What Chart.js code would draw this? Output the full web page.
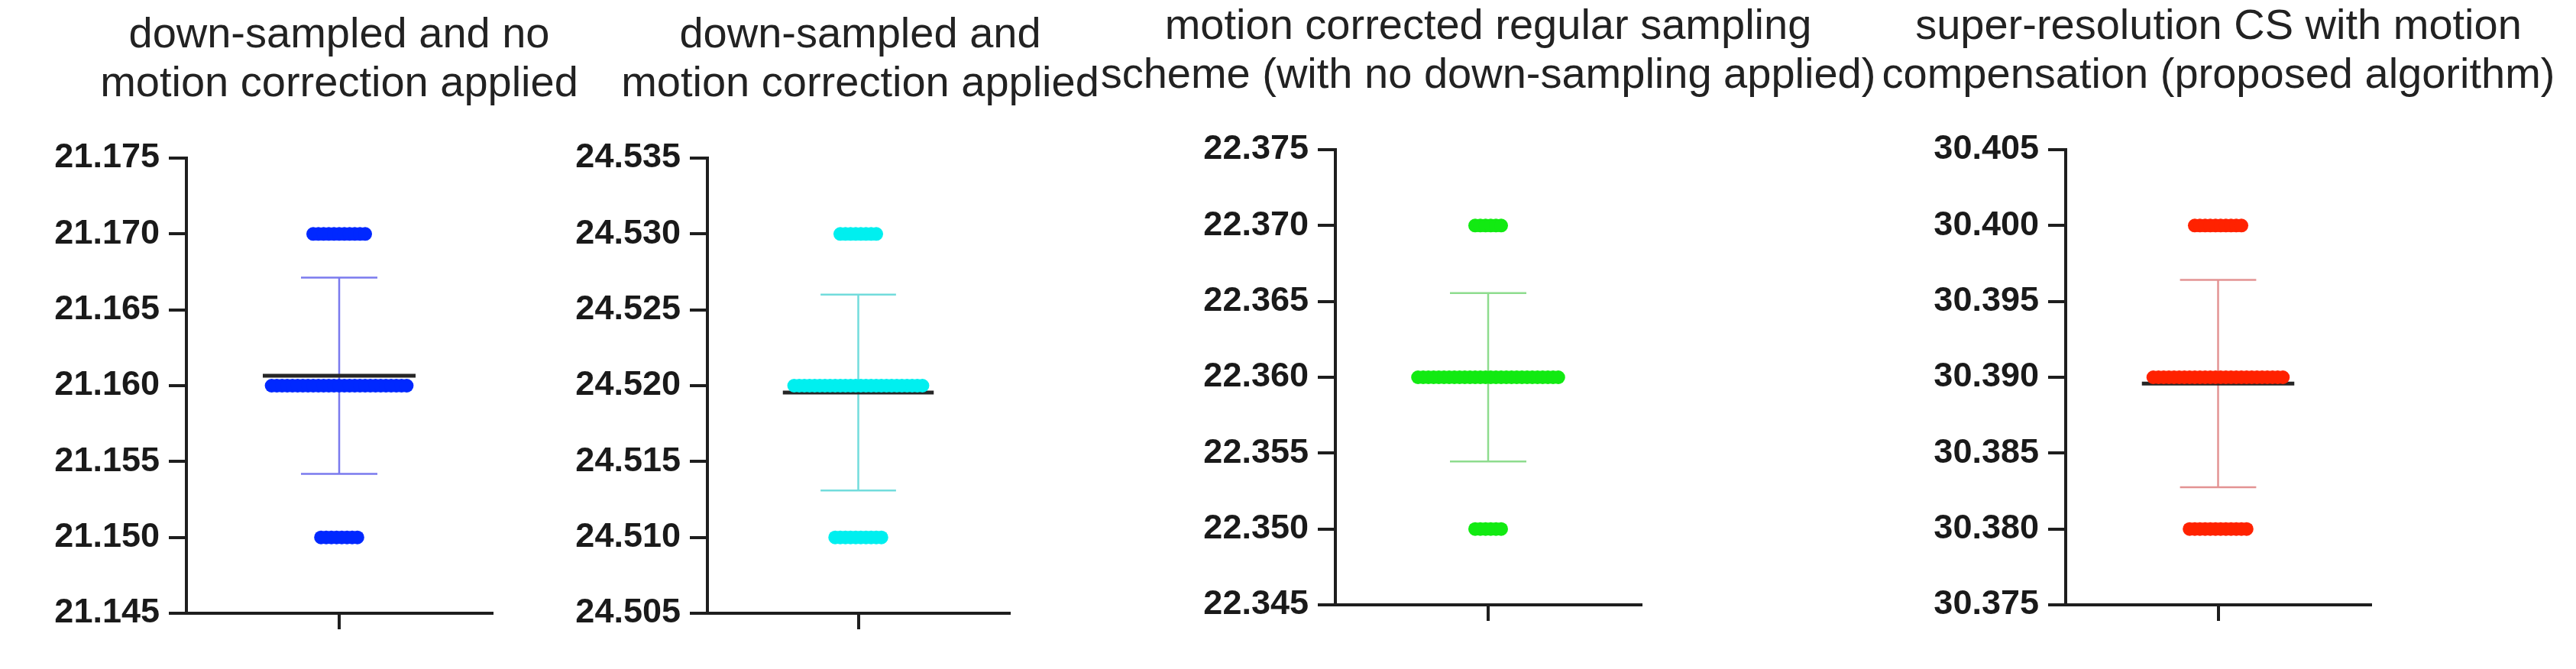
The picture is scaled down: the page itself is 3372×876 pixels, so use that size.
<!DOCTYPE html>
<html>
<head>
<meta charset="utf-8">
<script src="https://cdn.jsdelivr.net/npm/chart.js@4.4.1/dist/chart.umd.min.js"></script>
<style>
  html, body { margin: 0; padding: 0; background: #fff; }
  #wrap { position: relative; width: 3372px; height: 876px; overflow: hidden; }
  #wrap canvas { position: absolute; top: 0; }
</style>
</head>
<body>
<div id="wrap"></div>
<script>
// panel titles (two lines each)
const titles = [
  ["down-sampled and no", "motion correction applied"],
  ["down-sampled and", "motion correction applied"],
  ["motion corrected regular sampling", "scheme (with no down-sampling applied)"],
  ["super-resolution CS with motion", "compensation (proposed algorithm)"],
];

// measured values and how many repeats sit on each value
const levelsDown = [21.170, 21.160, 21.150];
const countsDown = [11, 27, 8];
const levelsDownMC = [24.530, 24.520, 24.510];
const countsDownMC = [8, 26, 10];
const levelsRegular = [22.370, 22.360, 22.350];
const countsRegular = [6, 28, 6];
const levelsSR = [30.400, 30.390, 30.380];
const countsSR = [10, 26, 12];

// y tick labels per panel
const ticksDown = [21.145, 21.150, 21.155, 21.160, 21.165, 21.170, 21.175];
const ticksDownMC = [24.505, 24.510, 24.515, 24.520, 24.525, 24.530, 24.535];
const ticksRegular = [22.345, 22.350, 22.355, 22.360, 22.365, 22.370, 22.375];
const ticksSR = [30.375, 30.380, 30.385, 30.390, 30.395, 30.400, 30.405];

const dotColors = ["#0028ff", "#00efef", "#12ea12", "#ff2200"];
const barColors = ["#7a7aee", "#72dcdc", "#8edc8e", "#e39393"];

// where each plot area sits on the page
const boxes = [
  { left: 244, width: 400, top: 207, bottom: 803 },
  { left: 926, width: 395, top: 207, bottom: 803 },
  { left: 1748, width: 400, top: 196, bottom: 792 },
  { left: 2704, width: 399, top: 196, bottom: 792 },
];

const FONT = "'Liberation Sans', Arial, Helvetica, sans-serif";
const INK = "#1e1e1e";
const CANVAS_W = 1100;
const LEFT_W = 350;
const TITLE_SIZE = 56;
const TITLE_LH = 1.15;
const DOT_STEP = 0.034; // horizontal spread between repeated dots (x units)

function spread(levels, counts) {
  const pts = [];
  levels.forEach((v, i) => {
    const n = counts[i];
    for (let k = 0; k < n; k++) {
      pts.push({ x: (k - (n - 1) / 2) * DOT_STEP, y: v });
    }
  });
  return pts;
}

function meanSd(pts) {
  const n = pts.length;
  const m = pts.reduce((a, p) => a + p.y, 0) / n;
  const v = pts.reduce((a, p) => a + (p.y - m) ** 2, 0) / (n - 1);
  return [m, Math.sqrt(v)];
}

function makePanel(idx, levels, counts, ticks) {
  const box = boxes[idx];
  const canvas = document.createElement("canvas");
  canvas.width = CANVAS_W;
  canvas.height = 876;
  canvas.style.left = (box.left - LEFT_W) + "px";
  document.getElementById("wrap").appendChild(canvas);

  const pts = spread(levels, counts);
  const [m, sd] = meanSd(pts);
  const lineH = TITLE_SIZE * TITLE_LH;
  const titleTop = box.top === 207 ? 14 : 3;

  const seg = (a, b, color, w, order) => ({
    data: [a, b], showLine: true, borderColor: color, borderWidth: w,
    pointRadius: 0, order: order,
  });

  new Chart(canvas, {
    type: "scatter",
    data: {
      datasets: [
        { data: pts, backgroundColor: dotColors[idx], borderWidth: 0, pointRadius: 9, order: 0 },
        seg({ x: -0.5, y: m }, { x: 0.5, y: m }, "#262626", 5, 1),
        seg({ x: 0, y: m - sd }, { x: 0, y: m + sd }, barColors[idx], 2.5, 2),
        seg({ x: -0.25, y: m + sd }, { x: 0.25, y: m + sd }, barColors[idx], 2.5, 2),
        seg({ x: -0.25, y: m - sd }, { x: 0.25, y: m - sd }, barColors[idx], 2.5, 2),
      ],
    },
    options: {
      responsive: false,
      animation: false,
      devicePixelRatio: 1,
      layout: {
        padding: { left: 0, right: 0, top: 0, bottom: 876 - box.bottom - 40 },
      },
      plugins: {
        legend: { display: false },
        tooltip: { enabled: false },
        title: {
          display: true,
          text: titles[idx],
          color: "#222",
          font: { family: FONT, size: TITLE_SIZE, weight: "normal", lineHeight: TITLE_LH },
          padding: { top: titleTop, bottom: box.top - titleTop - 2 * lineH },
        },
      },
      scales: {
        x: {
          type: "linear",
          min: -1,
          max: 1,
          afterBuildTicks: (s) => { s.ticks = [{ value: 0 }]; },
          afterFit: (s) => { s.height = 40; },
          ticks: { callback: () => "" },
          grid: { drawOnChartArea: false, tickLength: 21, lineWidth: 4, color: INK },
          border: { display: true, width: 4, color: INK },
        },
        y: {
          type: "linear",
          min: ticks[0],
          max: ticks[ticks.length - 1],
          afterBuildTicks: (s) => { s.ticks = ticks.map((v) => ({ value: v })); },
          afterFit: (s) => { s.width = LEFT_W; },
          ticks: {
            autoSkip: false,
            padding: 12,
            color: "#1a1a1a",
            font: { family: FONT, size: 45, weight: "bold" },
            callback: (v) => Number(v).toFixed(3),
          },
          grid: { drawOnChartArea: false, tickLength: 23, lineWidth: 4, color: INK },
          border: { display: true, width: 4, color: INK },
        },
        // empty right-hand spacer so the title stays centred over the plot
        spacer: {
          type: "linear",
          position: "right",
          display: true,
          ticks: { display: false },
          grid: { display: false },
          border: { display: false },
          afterFit: (s) => { s.width = CANVAS_W - LEFT_W - box.width; },
        },
      },
    },
  });
}

makePanel(0, levelsDown, countsDown, ticksDown);
makePanel(1, levelsDownMC, countsDownMC, ticksDownMC);
makePanel(2, levelsRegular, countsRegular, ticksRegular);
makePanel(3, levelsSR, countsSR, ticksSR);
</script>
</body>
</html>
